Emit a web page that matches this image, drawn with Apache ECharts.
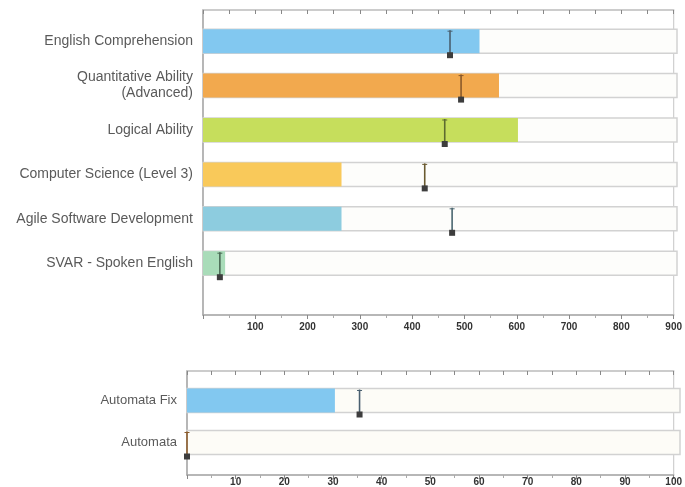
<!DOCTYPE html>
<html><head><meta charset="utf-8">
<script src="https://cdn.jsdelivr.net/npm/echarts@6/dist/echarts.min.js"></script>
<style>html,body{margin:0;padding:0;background:#fff}#c{width:685px;height:487px}</style>
</head><body><div id="c"></div>
<script>
// ---- data ----
var categoriesTop = ['English Comprehension', 'Quantitative Ability\n(Advanced)', 'Logical Ability', 'Computer Science (Level 3)', 'Agile Software Development', 'SVAR - Spoken English'];
var scoresTop = [525, 562, 598, 263, 263, 42];
var markersTop = [469, 490, 459, 421, 473, 32];
var ticksTop = [0, 900, 100];

var categoriesBottom = ['Automata Fix', 'Automata'];
var scoresBottom = [30, 0];
var markersBottom = [35, 0];
var ticksBottom = [0, 100, 10];

// ---- styles ----
var barColors = ['#82c8f0', '#f2a94e', '#c6de5c', '#f9c95a', '#8dccdf', '#a9dcb9'];
var markerLineColors = ['#4a6070', '#8a5a2a', '#5d6a30', '#6a5a30', '#4a6670', '#4a6a55'];
var fontFam = '"Liberation Sans", Arial, sans-serif';

function markerRender(params, api) {
  var idx = api.value(1);
  var p = api.coord([api.value(0), idx]);
  var x = p[0], y = p[1];
  var lc = markerLineColors[idx % markerLineColors.length];
  return {
    type: 'group',
    children: [
      { type: 'line', shape: { x1: x, y1: y - 11, x2: x, y2: y + 13 }, style: { stroke: lc, lineWidth: 1.6 } },
      { type: 'line', shape: { x1: x - 2.5, y1: y - 10, x2: x + 2.5, y2: y - 10 }, style: { stroke: lc, lineWidth: 1 } },
      { type: 'rect', shape: { x: x - 3, y: y + 11, width: 6, height: 6 }, style: { fill: '#3d3d3d' } }
    ]
  };
}

function frameX(min, max, interval, pos, grid, showLabels) {
  return {
    type: 'value', gridIndex: grid, position: pos, min: min, max: max, interval: interval,
    axisLine: { show: true, lineStyle: { color: pos === 'top' ? '#c4c4c4' : '#a8a8a8', width: 1.5 } },
    axisTick: { show: true, inside: pos === 'top', length: 4, lineStyle: { color: '#888' } },
    minorTick: { show: showLabels, splitNumber: 2, length: 3, lineStyle: { color: '#aaa' } },
    splitLine: { show: false },
    axisLabel: {
      show: showLabels, color: '#333', fontSize: 10, fontWeight: 'bold', fontFamily: fontFam,
      margin: pos === 'top' ? 0 : (grid === 0 ? 7 : 2),
      formatter: function (v) { return v === 0 ? '' : String(v); }
    }
  };
}
function hiddenX(min, max, grid) {
  return { type: 'value', gridIndex: grid, min: min, max: max, show: false, splitLine: { show: false } };
}
function frameY(grid) {
  return {
    type: 'value', gridIndex: grid, min: 0, max: 1,
    axisLine: { show: true, lineStyle: { color: '#a8a8a8', width: 1.5 } },
    axisTick: { show: false }, axisLabel: { show: false }, splitLine: { show: false }
  };
}
function catY(grid, cats, margin, size) {
  return {
    type: 'category', gridIndex: grid, data: cats, inverse: true,
    axisLine: { show: false }, axisTick: { show: false },
    axisLabel: { color: '#5a5a5a', fontSize: size, fontFamily: fontFam, margin: margin, align: 'right', lineHeight: 16 }
  };
}

var option = {
  animation: false,
  grid: [
    { left: 203, top: 10, width: 474, height: 305, show: true, borderColor: '#cfcfcf', borderWidth: 1.2 },
    { left: 203, top: 19, width: 474, height: 266.4 },
    { left: 187, top: 371, width: 493, height: 105, show: true, borderColor: '#cfcfcf', borderWidth: 1.2 },
    { left: 187, top: 379.5, width: 493, height: 84 }
  ],
  xAxis: [
    frameX(ticksTop[0], ticksTop[1], ticksTop[2], 'bottom', 0, true),
    frameX(ticksTop[0], ticksTop[1], ticksTop[2] / 2, 'top', 0, false),
    hiddenX(ticksTop[0], ticksTop[1], 1),
    frameX(ticksBottom[0], ticksBottom[1], ticksBottom[2], 'bottom', 2, true),
    frameX(ticksBottom[0], ticksBottom[1], ticksBottom[2] / 2, 'top', 2, false),
    hiddenX(ticksBottom[0], ticksBottom[1], 3)
  ],
  yAxis: [
    frameY(0),
    catY(1, categoriesTop, 10, 14),
    frameY(2),
    catY(3, categoriesBottom, 10, 13)
  ],
  series: [
    {
      type: 'bar', xAxisIndex: 2, yAxisIndex: 1, barWidth: 24,
      showBackground: true,
      backgroundStyle: { color: '#fdfdfb', borderColor: '#d2d2d2', borderWidth: 1.5 },
      data: scoresTop.map(function (v, i) { return { value: v, itemStyle: { color: barColors[i] } }; })
    },
    {
      type: 'custom', xAxisIndex: 2, yAxisIndex: 1, renderItem: markerRender, z: 5,
      data: markersTop.map(function (v, i) { return [v, i]; })
    },
    {
      type: 'bar', xAxisIndex: 5, yAxisIndex: 3, barWidth: 24,
      showBackground: true,
      backgroundStyle: { color: '#fdfcf7', borderColor: '#d2d2d2', borderWidth: 1.5 },
      data: scoresBottom.map(function (v, i) { return { value: v, itemStyle: { color: barColors[i] } }; })
    },
    {
      type: 'custom', xAxisIndex: 5, yAxisIndex: 3, renderItem: markerRender, z: 5,
      data: markersBottom.map(function (v, i) { return [v, i]; })
    }
  ]
};
var chart = echarts.init(document.getElementById('c'), null, { renderer: 'canvas' });
chart.setOption(option);
</script>
</body></html>
